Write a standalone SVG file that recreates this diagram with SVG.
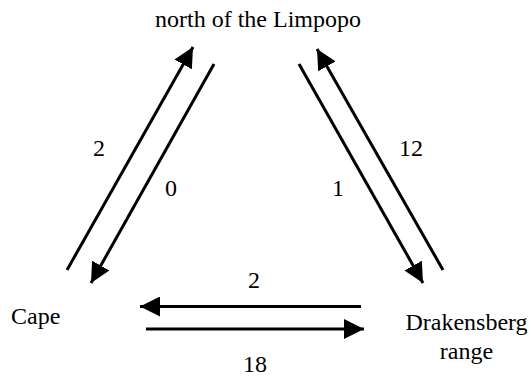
<svg xmlns="http://www.w3.org/2000/svg" width="531" height="376" viewBox="0 0 531 376">
<defs>
<marker id="ah" viewBox="0 0 20 20" refX="20" refY="10" markerWidth="20" markerHeight="20" markerUnits="userSpaceOnUse" orient="auto">
<path d="M0,0 L20,10 L0,20 Z" fill="#000"/>
</marker>
</defs>
<style>
.c line{stroke:#000;stroke-width:3;marker-end:url(#ah)}
</style>
<rect width="531" height="376" fill="#fff"/>
<g font-family="'Liberation Serif', 'Times New Roman', serif" font-size="24" fill="#000">
<g id="north"><text x="258" y="27" text-anchor="middle">north of the Limpopo</text></g>
<g id="cape"><text x="11" y="324">Cape</text></g>
<g id="drakensberg"><text x="466.5" y="330" text-anchor="middle">Drakensberg</text><text x="466.5" y="359" text-anchor="middle">range</text></g>
<g id="connectors">
<g class="c">
<line x1="67" y1="270" x2="193" y2="47"/>
<line x1="214" y1="64" x2="91" y2="283"/>
<line x1="299" y1="64" x2="423" y2="283"/>
<line x1="443" y1="270" x2="317" y2="49"/>
<line x1="361" y1="306.5" x2="140" y2="306.5"/>
<line x1="146" y1="329" x2="364" y2="329"/>
</g>
<text x="99" y="156" text-anchor="middle">2</text>
<text x="171" y="196" text-anchor="middle">0</text>
<text x="338" y="196" text-anchor="middle">1</text>
<text x="411" y="156" text-anchor="middle">12</text>
<text x="254" y="288" text-anchor="middle">2</text>
<text x="255" y="372" text-anchor="middle">18</text>
</g>
</g>
</svg>
